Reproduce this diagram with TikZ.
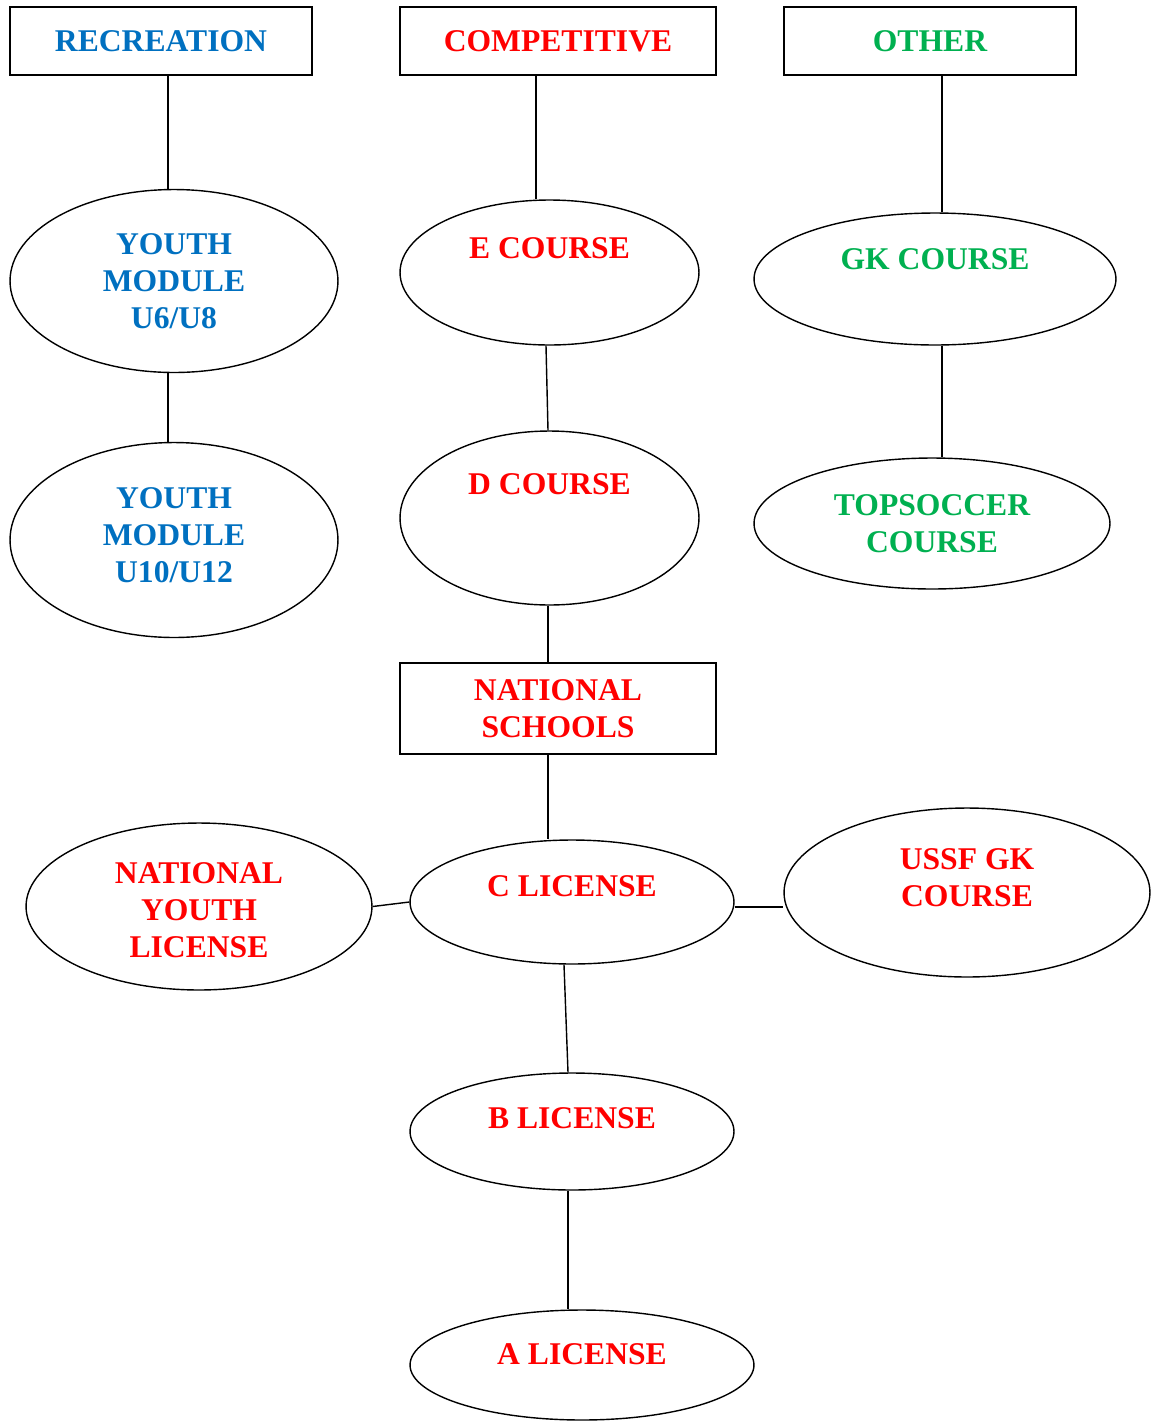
\documentclass[tikz,border=0pt]{standalone}
\usepackage{fontspec}
\setmainfont{Liberation Serif}
\usetikzlibrary{shapes.geometric}
\definecolor{recblue}{HTML}{0070C0}
\definecolor{compred}{HTML}{FF0000}
\definecolor{othgreen}{HTML}{00B050}

\begin{document}
\begin{tikzpicture}[
    x = 0.02cm, y = -0.02cm,
    line width = 0.8pt,
    every node/.style = {font = \fontsize{18}{21}\selectfont\bfseries, align = center},
    box/.style = {draw, rectangle, inner sep = 0pt},
    oval/.style = {draw, ellipse, inner sep = 0pt},
    lbl/.style = {inner sep = 0pt}
  ]
  \useasboundingbox (0,0) rectangle (1151,1421);

  % top row
  \node[box, minimum width = 6.04cm, minimum height = 1.36cm, text = recblue] (rec) at (161,41) {RECREATION};
  \node[box, minimum width = 6.32cm, minimum height = 1.36cm, text = compred] (comp) at (558,41) {COMPETITIVE};
  \node[box, minimum width = 5.84cm, minimum height = 1.36cm, text = othgreen] (other) at (930,41) {OTHER};

  % recreation
  \node[oval, minimum width = 6.56cm, minimum height = 3.66cm,
    label = {[lbl, text = recblue]center:YOUTH\\MODULE\\U6/U8}] (ymA) at (174,281) {};
  \node[oval, minimum width = 6.56cm, minimum height = 3.90cm,
    label = {[lbl, text = recblue, yshift = 0.1cm]center:YOUTH\\MODULE\\U10/U12}] (ymB) at (174,540) {};

  % competitive
  \node[oval, minimum width = 5.98cm, minimum height = 2.90cm,
    label = {[lbl, text = compred, yshift = 0.49cm]center:E COURSE}] (ecourse) at (549.5,272.5) {};
  \node[oval, minimum width = 5.98cm, minimum height = 3.48cm,
    label = {[lbl, text = compred, yshift = 0.68cm]center:D COURSE}] (dcourse) at (549.5,518) {};
  \node[box, minimum width = 6.32cm, minimum height = 1.82cm, text = compred] (natsch) at (558,708.5) {NATIONAL\\SCHOOLS};
  \node[oval, minimum width = 6.48cm, minimum height = 2.48cm,
    label = {[lbl, text = compred, yshift = 0.32cm]center:C LICENSE}] (clic) at (572,902) {};
  \node[oval, minimum width = 6.92cm, minimum height = 3.34cm,
    label = {[lbl, text = compred, yshift = -0.07cm]center:NATIONAL\\YOUTH\\LICENSE}] (nyl) at (199,906.5) {};
  \node[oval, minimum width = 7.32cm, minimum height = 3.38cm,
    label = {[lbl, text = compred, yshift = 0.3cm]center:USSF GK\\COURSE}] (ussf) at (967,892.5) {};
  \node[oval, minimum width = 6.48cm, minimum height = 2.34cm,
    label = {[lbl, text = compred, yshift = 0.27cm]center:B LICENSE}] (blic) at (572,1131.5) {};
  \node[oval, minimum width = 6.88cm, minimum height = 2.20cm,
    label = {[lbl, text = compred, yshift = 0.22cm]center:A LICENSE}] (alic) at (582,1365) {};

  % other
  \node[oval, minimum width = 7.24cm, minimum height = 2.64cm,
    label = {[lbl, text = othgreen, yshift = 0.4cm]center:GK COURSE}] (gk) at (935,279) {};
  \node[oval, minimum width = 7.12cm, minimum height = 2.62cm,
    label = {[lbl, text = othgreen]center:TOPSOCCER\\COURSE}] (topsoc) at (932,523.5) {};

  % connectors
  \draw ([xshift = -0.12cm]ymA.north |- rec.south) -- ([xshift = -0.12cm]ymA.north);
  \draw ([xshift = -0.12cm]ymA.south) -- ([xshift = -0.12cm]ymA.south |- ymB.north);
  \draw ([xshift = -0.27cm]ecourse.north |- comp.south) -- ([xshift = -0.27cm]ecourse.north);
  \draw ([xshift = -0.07cm]ecourse.south) -- ([xshift = -0.03cm]dcourse.north);
  \draw ([xshift = -0.03cm]dcourse.south) -- ([xshift = -0.03cm]dcourse.south |- natsch.north);
  \draw ([xshift = -0.03cm]dcourse.south |- natsch.south) -- ([xshift = -0.03cm]dcourse.south |- clic.north);
  \draw (nyl.east) -- (clic.west);
  \draw ([yshift = -0.1cm]clic.east) -- ([yshift = -0.1cm]clic.east -| ussf.west);
  \draw ([xshift = -0.16cm]clic.south) -- ([xshift = -0.08cm]blic.north);
  \draw ([xshift = -0.08cm]blic.south) -- ([xshift = -0.08cm]blic.south |- alic.north);
  \draw ([xshift = 0.24cm]other.south) -- ([xshift = 0.24cm]other.south |- gk.north);
  \draw ([xshift = 0.14cm]gk.south) -- ([xshift = 0.14cm]gk.south |- topsoc.north);

\end{tikzpicture}
\end{document}
